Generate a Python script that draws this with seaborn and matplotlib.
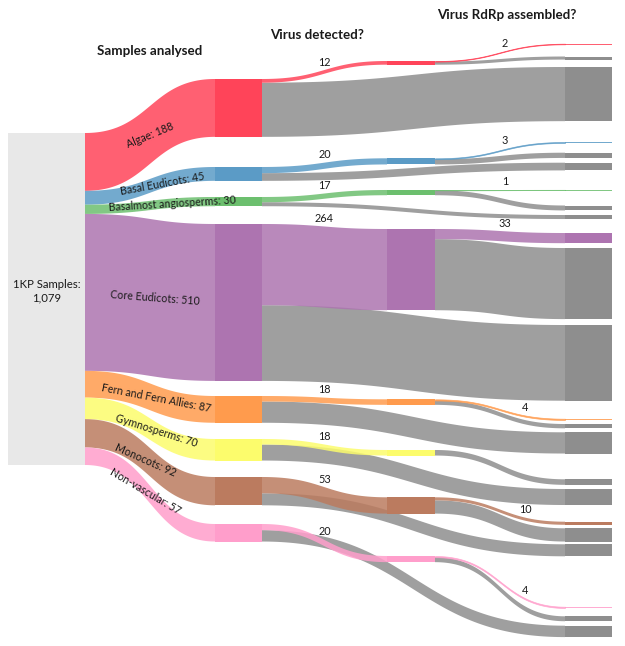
import numpy as np
import matplotlib
matplotlib.use("Agg")
import matplotlib.pyplot as plt
from matplotlib.patches import Rectangle
import seaborn as sns

# ---------------- data ----------------
groups = ["Algae", "Basal Eudicots", "Basalmost angiosperms", "Core Eudicots",
          "Fern and Fern Allies", "Gymnosperms", "Monocots", "Non-vascular"]
samples = [188, 45, 30, 510, 87, 70, 92, 57]
detected = [12, 20, 17, 264, 18, 18, 53, 20]
assembled = [2, 3, 1, 33, 4, 0, 10, 4]
root_label = "1KP Samples"
stage_titles = ["Samples analysed", "Virus detected?", "Virus RdRp assembled?"]

# ---------------- style / layout ----------------
node_colors = sns.color_palette(["#ff4459", "#5b9bc6", "#6cbf6e", "#ad74b0",
                                 "#ff9b4d", "#fcfc6c", "#bb7b5f", "#ff9ecb"])
gray_node = "#8e8e8e"
root_color = "#e8e8e8"
link_alpha = 0.85
text_color = "#1a1a1a"

W, H = 625, 646
px_per_sample = 332 / 1079
col_x = [(8, 85), (215, 262), (387, 435), (565, 612)]
root_top = 133
gaps1 = [79, 30.15, 16.15, 17.77, 15.08, 16.23, 16.46, 18.69]
gaps2 = [61, 93.6, 25.55, 33.77, 89.07, 45.16, 41.76, 42.39]
gaps3 = [43.7, 12.19, 7.42, 20.85, 9.78, 4.77, 19.41, 15.39, 4.58, 14.0, 4.85, 5.92,
         18.0, 4.07, 3.99, 20.47, 5.3, 4.16, 16.7, 3.52, 2.77, 50.4, 8.37, 4.48]
label_x = [150, 162, 172, 155, 156, 156, 145, 145]
title_x = [150, 317, 507]
title_y = [51, 35, 15]

sns.set_theme(style="white")
plt.rcParams["font.family"] = ["Lato", "DejaVu Sans"]

samples_a = np.array(samples, float)
detected_a = np.array(detected, float)
assembled_a = np.array(assembled, float)
not_detected = samples_a - detected_a
not_assembled = detected_a - assembled_a
total = samples_a.sum()


def stack(values, gaps):
    tops, y = [], 0.0
    for v, g in zip(values, gaps):
        y += g
        tops.append(y)
        y += v * px_per_sample
    return np.array(tops)


top1 = stack(samples_a, gaps1)
top2 = stack(detected_a, gaps2)
col3_vals = np.ravel(np.column_stack([assembled_a, not_assembled, not_detected]))
top3 = stack(col3_vals, gaps3).reshape(-1, 3)


def bez(x0, x1, y0, y1, n=120):
    t = np.linspace(0, 1, n)
    xm = (x0 + x1) / 2
    x = (1 - t) ** 3 * x0 + 3 * (1 - t) ** 2 * t * xm + 3 * (1 - t) * t ** 2 * xm + t ** 3 * x1
    s = 3 * t ** 2 - 2 * t ** 3
    return x, y0 + (y1 - y0) * s


def link(ax, x0, y0, x1, y1, value, color):
    h = value * px_per_sample
    if h <= 0:
        return
    x, yt = bez(x0, x1, y0, y1)
    thin = h < 1.5
    ax.fill_between(x, yt, yt + h, facecolor=color, alpha=link_alpha,
                    edgecolor=color if thin else "none", lw=0.5 if thin else 0,
                    zorder=2)


def top_at(x0, x1, y0, y1, xq):
    x, yt = bez(x0, x1, y0, y1, 400)
    return np.interp(xq, x, yt)


fig = plt.figure(figsize=(W / 100, H / 100), dpi=100)
ax = fig.add_axes([0, 0, 1, 1])
ax.set_xlim(0, W)
ax.set_ylim(H, 0)
ax.axis("off")

# root node
ax.add_patch(Rectangle((col_x[0][0], root_top), col_x[0][1] - col_x[0][0],
                       total * px_per_sample, color=root_color, lw=0, zorder=3))
ax.text(sum(col_x[0]) / 2, root_top + total * px_per_sample / 2 - 8,
        f"{root_label}:\n{int(total):,}", ha="center", va="center",
        fontsize=8.2, color=text_color, linespacing=1.25, zorder=5)

y_root = root_top
for i, g in enumerate(groups):
    c = node_colors[i]
    n = samples_a[i]
    h1 = n * px_per_sample
    # root -> group
    link(ax, col_x[0][1], y_root, col_x[1][0], top1[i], n, c)
    # label along the band
    y0c, y1c = y_root + h1 / 2, top1[i] + h1 / 2
    dx = col_x[1][0] - col_x[0][1]
    ang = np.degrees(np.arctan2(-(y1c - y0c), dx))
    lx = label_x[i]
    ly = y0c + (y1c - y0c) * (lx - col_x[0][1]) / dx
    ax.text(lx, ly, f"{g}: {int(n)}", ha="center", va="center", rotation=ang,
            rotation_mode="anchor", fontsize=7.7, color=text_color, zorder=6)
    y_root += h1

    # group node
    ax.add_patch(Rectangle((col_x[1][0], top1[i]), col_x[1][1] - col_x[1][0], h1,
                           color=c, lw=0, zorder=3))
    hd = detected_a[i] * px_per_sample
    # not detected -> final gray node
    link(ax, col_x[1][1], top1[i] + hd, col_x[3][0], top3[i, 2], not_detected[i], gray_node)
    # detected
    link(ax, col_x[1][1], top1[i], col_x[2][0], top2[i], detected_a[i], c)
    xm = (col_x[1][1] + col_x[2][0]) / 2
    ax.text(xm, top_at(col_x[1][1], col_x[2][0], top1[i], top2[i], xm) - 2.5,
            f"{int(detected_a[i])}", ha="center", va="bottom", fontsize=7.8,
            color=text_color, zorder=6)
    ax.add_patch(Rectangle((col_x[2][0], top2[i]), col_x[2][1] - col_x[2][0], hd,
                           color=c, lw=0, zorder=3))
    ha_ = assembled_a[i] * px_per_sample
    # detected but not assembled
    link(ax, col_x[2][1], top2[i] + ha_, col_x[3][0], top3[i, 1], not_assembled[i], gray_node)
    # assembled
    if assembled_a[i] > 0:
        link(ax, col_x[2][1], top2[i], col_x[3][0], top3[i, 0], assembled_a[i], c)
        dy = top3[i, 0] - top2[i]
        xl = (col_x[2][1] + col_x[3][0]) / 2 + (25 if dy > 8 else 5)
        ax.text(xl, top_at(col_x[2][1], col_x[3][0], top2[i], top3[i, 0], xl) - 2.5,
                f"{int(assembled_a[i])}", ha="center", va="bottom", fontsize=7.8,
                color=text_color, zorder=6)
        ax.add_patch(Rectangle((col_x[3][0], top3[i, 0]), col_x[3][1] - col_x[3][0],
                               max(ha_, 0.8), color=c, lw=0, alpha=0.85 if ha_ < 1.5 else 1,
                               zorder=3))
    for k, v in ((1, not_assembled[i]), (2, not_detected[i])):
        ax.add_patch(Rectangle((col_x[3][0], top3[i, k]), col_x[3][1] - col_x[3][0],
                               v * px_per_sample, color=gray_node, lw=0, zorder=3))

for t, x, y in zip(stage_titles, title_x, title_y):
    ax.text(x, y, t, ha="center", va="center", fontsize=9.6, fontweight="bold",
            color=text_color, zorder=6)

fig.savefig("out.png", dpi=100)
